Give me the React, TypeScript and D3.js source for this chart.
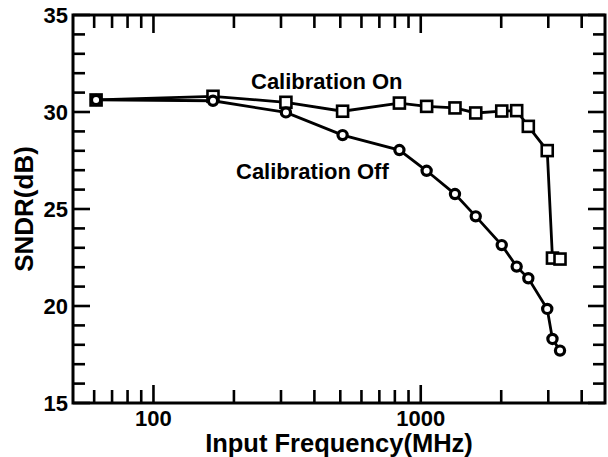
import React from 'react';
import * as d3 from 'd3';

// input frequency (MHz), shared by both curves
const freqs = [61, 167, 313, 510, 832, 1052, 1343, 1606, 2009, 2285, 2526, 2973, 3110, 3319];
const sndrOn = [30.62, 30.81, 30.5, 30.04, 30.46, 30.29, 30.21, 29.95, 30.05, 30.07, 29.26, 28.01, 22.47, 22.42];
const sndrOff = [30.62, 30.58, 29.98, 28.81, 28.04, 26.97, 25.77, 24.62, 23.14, 22.03, 21.43, 19.85, 18.3, 17.7];
const yTicks = [15, 20, 25, 30, 35];
const xTickLabels = [100, 1000];

const W = 608, H = 457;
const left = 73, right = 605, top = 15, bottom = 403;
const font = '"Liberation Sans", Arial, Helvetica, sans-serif';

const App = () => {
    const x = d3.scaleLog().domain([50, 4890]).range([left, right]);
    const y = d3.scaleLinear().domain([15, 35]).range([bottom, top]);

    const line = d3.line<number>()
        .x((d, i) => x(freqs[i]))
        .y(d => y(d));

    // minor ticks on the log axis
    const xMinor: number[] = [];
    [10, 100, 1000].forEach(dec => {
        for (let k = 2; k <= 9; k++) {
            const v = dec * k;
            if (v > 50 && v < 4890) xMinor.push(v);
        }
    });
    const yMinor = d3.range(16, 35).filter(v => v % 5 !== 0);

    const sw = 2.8;

    return (
        <svg width={W} height={H} style={{ position: 'absolute', left: 0, top: 0, background: '#fff' }}>
            <g stroke="#000" strokeWidth={2.6}>
                {/* x ticks, bottom and top */}
                {xMinor.map(v => (
                    <g key={'xm' + v}>
                        <line x1={x(v)} x2={x(v)} y1={bottom} y2={bottom - 13} />
                        <line x1={x(v)} x2={x(v)} y1={top} y2={top + 13} />
                    </g>
                ))}
                {xTickLabels.map(v => (
                    <g key={'xM' + v}>
                        <line x1={x(v)} x2={x(v)} y1={bottom} y2={bottom - 18} />
                        <line x1={x(v)} x2={x(v)} y1={top} y2={top + 18} />
                    </g>
                ))}
                {/* y ticks, left and right */}
                {yMinor.map(v => (
                    <g key={'ym' + v}>
                        <line x1={left} x2={left + 12} y1={y(v)} y2={y(v)} />
                        <line x1={right} x2={right - 12} y1={y(v)} y2={y(v)} />
                    </g>
                ))}
                {yTicks.map(v => (
                    <g key={'yM' + v}>
                        <line x1={left} x2={left + 17} y1={y(v)} y2={y(v)} />
                        <line x1={right} x2={right - 17} y1={y(v)} y2={y(v)} />
                    </g>
                ))}
                <rect x={left} y={top} width={right - left} height={bottom - top} fill="none" strokeWidth={3} />
            </g>

            <g fontFamily={font} fontWeight="bold" fill="#000">
                {yTicks.map(v => (
                    <text key={v} x={68} y={y(v)} dy="0.36em" textAnchor="end" fontSize={22}>{v}</text>
                ))}
                {xTickLabels.map(v => (
                    <text key={v} x={x(v)} y={426} textAnchor="middle" fontSize={22}>{v}</text>
                ))}
                <text x={(left + right) / 2} y={452} textAnchor="middle" fontSize={25.5}>Input Frequency(MHz)</text>
                <text transform={`translate(33 ${(top + bottom) / 2}) rotate(-90)`} textAnchor="middle" fontSize={26}>SNDR(dB)</text>
                <text x={251} y={89} fontSize={22}>Calibration On</text>
                <text x={236} y={179} fontSize={22}>Calibration Off</text>
            </g>

            <path d={line(sndrOff) || ''} fill="none" stroke="#000" strokeWidth={sw} />
            <path d={line(sndrOn) || ''} fill="none" stroke="#000" strokeWidth={sw} />

            {sndrOn.map((v, i) => (
                <rect key={'s' + i} x={x(freqs[i]) - 5.5} y={y(v) - 5.5} width={11} height={11}
                    fill="#fff" stroke="#000" strokeWidth={2.6} />
            ))}
            {sndrOff.map((v, i) => (
                <circle key={'c' + i} cx={x(freqs[i])} cy={y(v)} r={4.6}
                    fill="#fff" stroke="#000" strokeWidth={3.2} />
            ))}
        </svg>
    );
};

export default App;
